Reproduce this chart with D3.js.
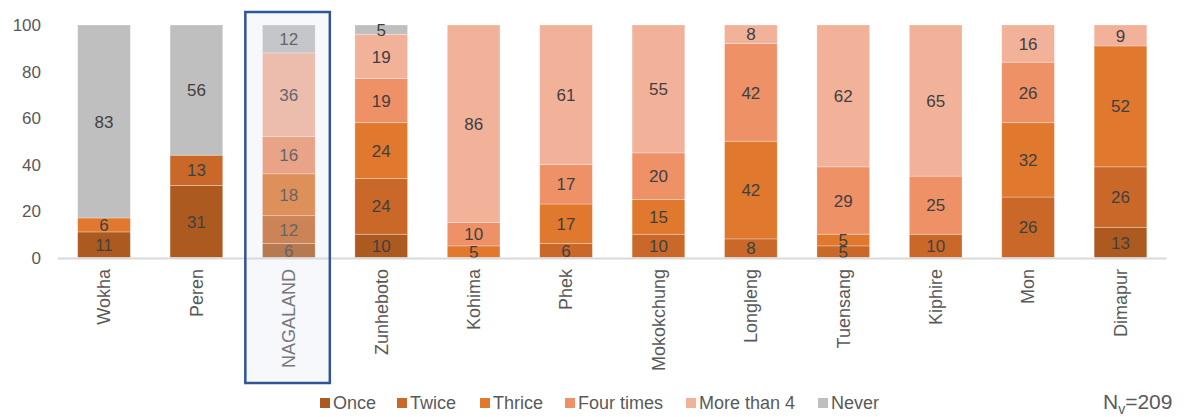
<!DOCTYPE html>
<html>
<head>
<meta charset="utf-8">
<script src="https://cdn.jsdelivr.net/npm/d3@7"></script>
<style>
html,body{margin:0;padding:0;background:#fff;}
svg{display:block;font-family:"Liberation Sans",Arial,sans-serif;}
</style>
</head>
<body>
<svg id="chart" width="1188" height="417"></svg>
<script>
const districts = ["Wokha","Peren","NAGALAND","Zunheboto","Kohima","Phek","Mokokchung","Longleng","Tuensang","Kiphire","Mon","Dimapur"];
const seriesNames = ["Once","Twice","Thrice","Four times","More than 4","Never"];
const once      = [11,31,6,10,0,0,0,0,0,0,0,13];
const twice     = [0,13,12,24,0,6,10,8,5,10,26,26];
const thrice    = [6,0,18,24,5,17,15,42,5,0,32,52];
const fourTimes = [0,0,16,19,10,17,20,42,29,25,26,0];
const moreThan4 = [0,0,36,19,86,61,55,8,62,65,16,9];
const never     = [83,56,12,5,0,0,0,0,0,0,0,0];
const yTicks = [0,20,40,60,80,100];
const colors = ["#ad5a20","#c96828","#e0782e","#ef9166","#f2b199","#bfbfbf"];
const highlight = "NAGALAND";
const nLabel = {main:"N", sub:"v", rest:"=209"};

const seriesValues = [once,twice,thrice,fourTimes,moreThan4,never];
const rows = districts.map((d,i)=>{
  const r = {district:d};
  seriesNames.forEach((s,j)=>{ r[s] = seriesValues[j][i]; });
  return r;
});

const svg = d3.select("#chart");
const x = d3.scaleBand().domain(districts).range([57.8,1166.7]).paddingInner(0.43).paddingOuter(0.215);
const y = d3.scaleLinear().domain([0,100]).range([257.5,25]).clamp(true);
const color = d3.scaleOrdinal().domain(seriesNames).range(colors);
const stack = d3.stack().keys(seriesNames)(rows);

// y tick labels
svg.append("g").selectAll("text").data(yTicks).join("text")
  .attr("x",41).attr("y",d=>y(d)).attr("dy","0.36em")
  .attr("text-anchor","end").attr("font-size",17).attr("fill","#595959")
  .text(d=>d);

// bars
const layers = svg.append("g").selectAll("g").data(stack).join("g")
  .attr("fill",d=>color(d.key));
layers.selectAll("rect").data(d=>d.filter(p=>p[1]-p[0]>0)).join("rect")
  .attr("x",d=>x(d.data.district))
  .attr("width",x.bandwidth())
  .attr("y",d=>y(d[1]))
  .attr("height",d=>y(d[0])-y(d[1]))
  .attr("stroke","#ffffff").attr("stroke-opacity",0.35).attr("stroke-width",0.8);

// value labels
const labels = svg.append("g");
stack.forEach(layer=>{
  layer.forEach(p=>{
    const v = p[1]-p[0];
    if(v<=0) return;
    labels.append("text")
      .attr("x",x(p.data.district)+x.bandwidth()/2)
      .attr("y",(y(p[0])+y(p[1]))/2)
      .attr("dy","0.36em")
      .attr("text-anchor","middle").attr("font-size",17).attr("fill","#404040")
      .text(v);
  });
});

// axis line
svg.append("line").attr("x1",57.8).attr("x2",1166.7).attr("y1",258.5).attr("y2",258.5)
  .attr("stroke","#d9d9d9").attr("stroke-width",2);

// x labels
svg.append("g").selectAll("text").data(districts).join("text")
  .attr("transform",d=>`translate(${x(d)+x.bandwidth()/2},269) rotate(-90)`)
  .attr("dy","0.35em").attr("text-anchor","end")
  .attr("font-size",18).attr("fill","#595959")
  .text(d=>d);

// highlight box
const hx = x(highlight)+x.bandwidth()/2;
svg.append("rect").attr("x",hx-43.5).attr("y",12).attr("width",84.5).attr("height",371)
  .attr("fill","rgb(217,223,241)").attr("fill-opacity",0.23)
  .attr("stroke","#2f5597").attr("stroke-width",2.5);

// legend
const legendX = [320,397,480,565,686,818];
const lg = svg.append("g").selectAll("g").data(seriesNames).join("g")
  .attr("transform",(d,i)=>`translate(${legendX[i]},398)`);
lg.append("rect").attr("width",10).attr("height",10).attr("fill",d=>color(d));
lg.append("text").attr("x",13).attr("y",5).attr("dy","0.36em")
  .attr("font-size",18).attr("fill","#595959").text(d=>d);

// N label
const nt = svg.append("text").attr("x",1103).attr("y",409).attr("font-size",21).attr("fill","#595959");
nt.append("tspan").text(nLabel.main);
nt.append("tspan").attr("font-size",14).attr("dy",5).text(nLabel.sub);
nt.append("tspan").attr("dy",-5).text(nLabel.rest);
</script>
</body>
</html>
